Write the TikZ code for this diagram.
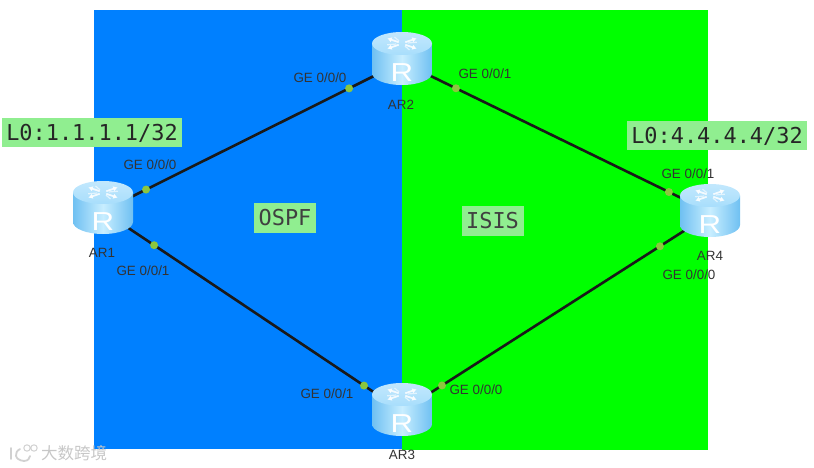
\documentclass[tikz,border=0pt]{standalone}
\usepackage{fontspec}
\setmainfont{Liberation Sans}
\newfontfamily\monof{DejaVu Sans Mono}
\newfontfamily\cjkf{Noto Sans CJK SC}
\usetikzlibrary{calc,arrows.meta}
\definecolor{zoneblue}{HTML}{0080FF}
\definecolor{zonegreen}{HTML}{00FF00}
\definecolor{tagbg}{HTML}{90EE90}
\definecolor{dotc}{HTML}{8CC63F}
\definecolor{rtop}{HTML}{A8DEFC}
\definecolor{rside}{HTML}{6FC0F2}
\definecolor{rmid}{HTML}{C8EEFF}
\tikzset{
  hub/.style={circle,inner sep=0pt,minimum size=1pt},
  link/.style={draw=black!90,line width=2.6pt},
  portdot/.style={circle,fill=dotc,inner sep=0pt,minimum size=8pt},
  port/.style={font=\fontsize{13.4}{15}\selectfont,text=black!80,inner sep=0pt},
  rname/.style={font=\fontsize{13.4}{15}\selectfont,text=black!80,inner sep=0pt},
  tag/.style={fill=tagbg,font=\monof\fontsize{21.9}{24}\selectfont,text=black!85,inner sep=0pt,minimum height=29pt,minimum width=180pt},
  ztag/.style={fill=tagbg,font=\monof\fontsize{21.9}{24}\selectfont,text=black!75,inner sep=0pt,minimum height=30pt,minimum width=62pt},
  router/.pic={
    \shade[left color=rside,right color=rside,middle color=rmid]
      (-30,-15) -- (-30,14.5) arc[start angle=180,end angle=0,x radius=30,y radius=12] -- (30,-15) -- cycle;
    \shade[top color=rtop!70!white,bottom color=rtop] (0,-15) ellipse[x radius=30,y radius=11.5];
    \foreach \a in {35,145,215,325}{
      \draw[white,opacity=.85,line width=1.7pt,-{Latex[length=4.5pt,width=5.5pt]}]
        ($(0,-15)+(\a:4 and 2.2)$) -- ($(0,-15)+(\a:18 and 9)$);
      \draw[white,opacity=.6,line width=1.2pt] ($(0,-15)+(\a+25:6 and 3)$) -- ($(0,-15)+(\a+25:15 and 7.5)$);
    }
    \node[inner sep=0pt,text=white,font=\fontsize{26}{28}\selectfont,xscale=1.2,transform shape] at (0,14) {R};
  }
}
\begin{document}
\begin{tikzpicture}[x=1pt,y=-1pt]
\useasboundingbox (0,0) rectangle (814,468);
\fill[zoneblue] (94,10) rectangle (402,449);
\fill[zonegreen] (402,10) rectangle (708,450);

\node[hub] (ar1) at (103,211) {};
\node[hub] (ar2) at (402,62) {};
\node[hub] (ar3) at (402,411) {};
\node[hub] (ar4) at (712,213) {};

\draw[link] (ar1.center) -- node[portdot,pos=.144] (d1) {} node[portdot,pos=.823] (d2) {} (ar2.center);
\draw[link] (ar1.center) -- node[portdot,pos=.171] (d3) {} node[portdot,pos=.873] (d4) {} (ar3.center);
\draw[link] (ar2.center) -- node[portdot,pos=.174] (d5) {} node[portdot,pos=.861] (d6) {} (ar4.center);
\draw[link] (ar3.center) -- node[portdot,pos=.129] (d7) {} node[portdot,pos=.832] (d8) {} (ar4.center);

\pic at (103,207.5) {router};
\pic at (402,58.5) {router};
\pic at (402,409.5) {router};
\pic at (710,210.5) {router};

\node[rname] (n1) at (102,253) {AR1};
\node[rname] (n2) at (401,105) {AR2};
\node[rname] (n3) at (402,455) {AR3};
\node[rname] (n4) at (710,255.5) {AR4};

\node[port] (p1) at (150,165) {GE 0/0/0};
\node[port] (p2) at (143,271) {GE 0/0/1};
\node[port] (p3) at (320,78) {GE 0/0/0};
\node[port] (p4) at (485,73.5) {GE 0/0/1};
\node[port] (p5) at (327,393.5) {GE 0/0/1};
\node[port] (p6) at (476,390) {GE 0/0/0};
\node[port] (p7) at (688,173.5) {GE 0/0/1};
\node[port] (p8) at (689,275) {GE 0/0/0};

\node[tag] (l1) at (92,133) {L0:1.1.1.1/32};
\node[tag] (l4) at (717,136) {L0:4.4.4.4/32};
\node[ztag] (ospf) at (285,218) {OSPF};
\node[ztag] (isis) at (492.5,221) {ISIS};

% watermark
\draw[black!18,line width=1.8pt,line cap=round] (11,448) -- (11,459);
\draw[black!18,line width=1.8pt,line cap=round] (20,449) .. controls (14,452) and (14,460) .. (24,461) .. controls (28,461) and (30,458) .. (30,456);
\draw[black!18,line width=1pt] (27,448) circle[radius=3.2] (34,448) circle[radius=3.2];
\node[inner sep=0pt,text=black!22,font=\cjkf\fontsize{16.5}{18}\selectfont] (wm) at (74,453) {大数跨境};
\end{tikzpicture}
\end{document}
